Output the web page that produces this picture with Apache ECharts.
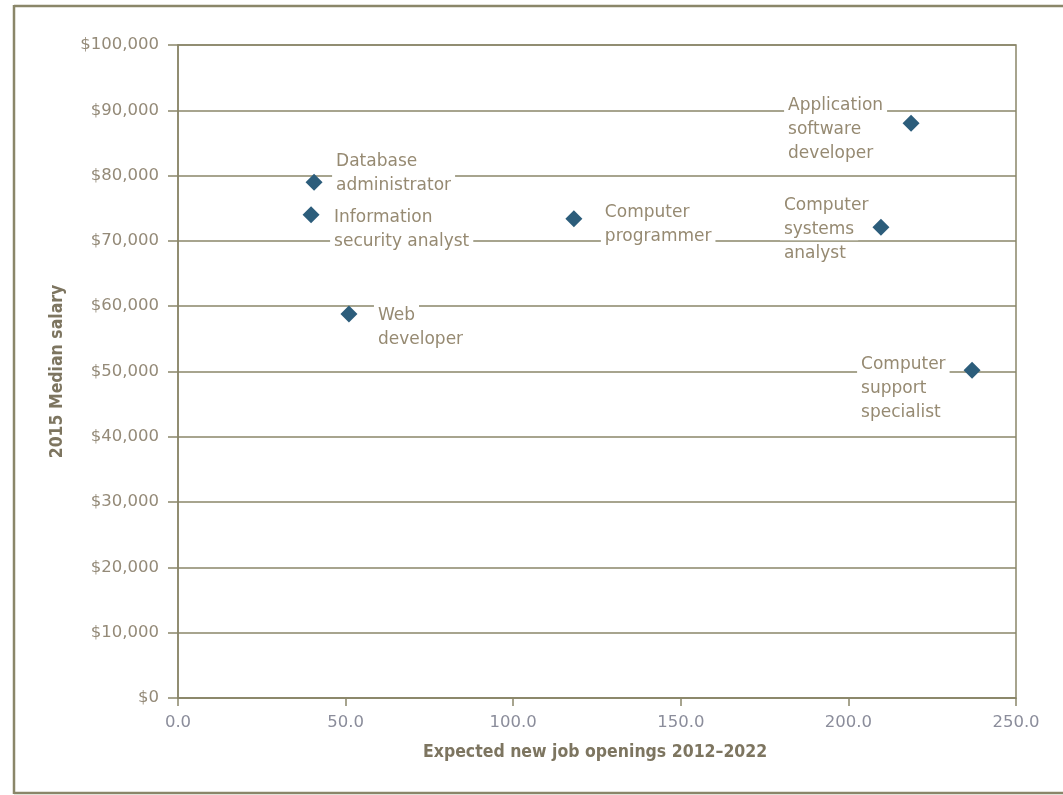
<!DOCTYPE html>
<html>
<head>
<meta charset="utf-8">
<script src="https://cdn.jsdelivr.net/npm/echarts@6/dist/echarts.min.js"></script>
<style>
html,body{margin:0;padding:0;background:#fff;}
#chart{width:1063px;height:795px;}
</style>
</head>
<body>
<div id="chart"></div>
<script>
// ---- data ----
const jobNames = [
  'Database\nadministrator',
  'Information\nsecurity analyst',
  'Web\ndeveloper',
  'Computer\nprogrammer',
  'Application\nsoftware\ndeveloper',
  'Computer\nsystems\nanalyst',
  'Computer\nsupport\nspecialist'
];
const jobOpenings = [40.6, 39.7, 51.0, 118.1, 218.7, 209.7, 236.9];
const medianSalary = [79000, 74000, 58800, 73400, 88000, 72100, 50200];
const xTicks = [0, 50, 100, 150, 200, 250];
const yTicks = [0, 10000, 20000, 30000, 40000, 50000, 60000, 70000, 80000, 90000, 100000];

// ---- label placement (style, not data) ----
const labelOffsets = [
  [18, -9], [19, 15], [25, 14], [27, 6], [-127, 6], [-101, 2], [-115, 18]
];

const fontFamily = '"DejaVu Sans", "Liberation Sans", sans-serif';
const boldFamily = '"DejaVu Sans Condensed", "DejaVu Sans", sans-serif';
const lineColor = '#8a8669';
const textColor = '#968a72';

const chart = echarts.init(document.getElementById('chart'));

const points = jobNames.map((n, i) => ({
  name: n,
  value: [jobOpenings[i], medianSalary[i]],
  label: {
    show: true,
    position: 'inside',
    align: 'left',
    verticalAlign: 'middle',
    offset: labelOffsets[i],
    formatter: p => p.name.split('\n').map(s => '{w|' + s + '}').join('\n'),
    rich: {
      w: {
        color: textColor,
        fontFamily: fontFamily,
        fontSize: 17,
        lineHeight: 24,
        height: 22,
        backgroundColor: '#ffffff',
        padding: [0, 4, 0, 4]
      }
    }
  }
}));

chart.setOption({
  animation: false,
  backgroundColor: '#ffffff',
  graphic: [
    { type: 'line', shape: { x1: 14, y1: 6, x2: 1063, y2: 6 }, style: { stroke: lineColor, lineWidth: 2.5 } },
    { type: 'line', shape: { x1: 14, y1: 793, x2: 1063, y2: 793 }, style: { stroke: lineColor, lineWidth: 2.5 } },
    { type: 'line', shape: { x1: 14, y1: 5, x2: 14, y2: 794 }, style: { stroke: lineColor, lineWidth: 2.5 } }
  ],
  grid: {
    left: 178, right: 47, top: 45, bottom: 97,
    show: true, borderColor: lineColor, borderWidth: 1.5, backgroundColor: 'transparent'
  },
  xAxis: {
    type: 'value',
    min: xTicks[0], max: xTicks[xTicks.length - 1], interval: 50,
    name: 'Expected new job openings 2012\u20132022',
    nameLocation: 'start',
    nameGap: 0,
    nameTextStyle: {
      color: '#7d7560', fontFamily: boldFamily, fontWeight: 'bold', fontSize: 17.5,
      align: 'left', verticalAlign: 'top', padding: [45, 0, 0, 245]
    },
    axisLine: { show: true, lineStyle: { color: lineColor, width: 1.5 } },
    axisTick: { show: true, length: 8, lineStyle: { color: lineColor, width: 1.5 } },
    splitLine: { show: false },
    axisLabel: {
      color: '#8b8d9b', fontFamily: fontFamily, fontSize: 16.5, margin: 16,
      formatter: v => v.toFixed(1)
    }
  },
  yAxis: {
    type: 'value',
    min: yTicks[0], max: yTicks[yTicks.length - 1], interval: 10000,
    name: '2015 Median salary',
    nameLocation: 'middle',
    nameGap: 112,
    nameRotate: 90,
    nameTextStyle: { color: '#7d7560', fontFamily: boldFamily, fontWeight: 'bold', fontSize: 17.5 },
    axisLine: { show: true, lineStyle: { color: lineColor, width: 1.5 } },
    axisTick: { show: true, length: 10, lineStyle: { color: lineColor, width: 1.5 } },
    splitLine: { show: true, lineStyle: { color: lineColor, width: 1.5 } },
    axisLabel: {
      color: '#948a78', fontFamily: fontFamily, fontSize: 16.5, margin: 19,
      formatter: v => '$' + v.toLocaleString('en-US')
    }
  },
  series: [{
    type: 'scatter',
    symbol: 'diamond',
    symbolSize: 17,
    itemStyle: { color: '#2c5d7b', opacity: 1 },
    data: points,
    z: 5
  }]
});
</script>
</body>
</html>
